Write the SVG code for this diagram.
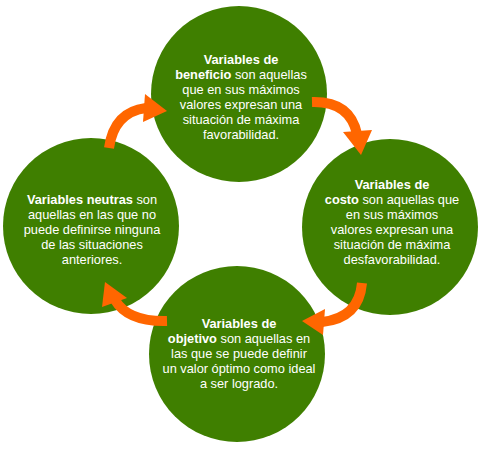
<svg xmlns="http://www.w3.org/2000/svg" width="480" height="450" viewBox="0 0 480 450">
<style>
.c{fill:#3f7f00}
.t{font-family:"Liberation Sans",Arial,sans-serif;font-size:12.8px;fill:#ffffff;text-anchor:middle}
.b{font-weight:bold}
.a{fill:none;stroke:#ff6600;stroke-width:10}
.h{fill:#ff6600}
</style>
<rect width="480" height="450" fill="#ffffff"/>
<g id="node-beneficio">
<circle class="c" cx="239" cy="94" r="88"/>
<text class="t"><tspan x="241" y="64" class="b">Variables de</tspan><tspan x="241" y="79"><tspan class="b">beneficio</tspan> son aquellas</tspan><tspan x="241" y="94">que en sus máximos</tspan><tspan x="241" y="109">valores expresan una</tspan><tspan x="241" y="124">situación de máxima</tspan><tspan x="241" y="139">favorabilidad.</tspan></text>
</g>
<g id="node-costo">
<circle class="c" cx="390" cy="227" r="88"/>
<text class="t"><tspan x="392" y="189" class="b">Variables de</tspan><tspan x="392" y="204"><tspan class="b">costo</tspan> son aquellas que</tspan><tspan x="392" y="219">en sus máximos</tspan><tspan x="392" y="234">valores expresan una</tspan><tspan x="392" y="249">situación de máxima</tspan><tspan x="392" y="264">desfavorabilidad.</tspan></text>
</g>
<g id="node-objetivo">
<circle class="c" cx="237" cy="354" r="88"/>
<text class="t"><tspan x="239" y="328" class="b">Variables de</tspan><tspan x="239" y="343"><tspan class="b">objetivo</tspan> son aquellas en</tspan><tspan x="239" y="358">las que se puede definir</tspan><tspan x="239" y="373">un valor óptimo como ideal</tspan><tspan x="239" y="388">a ser logrado.</tspan></text>
</g>
<g id="node-neutras">
<circle class="c" cx="91" cy="226" r="88"/>
<text class="t"><tspan x="92" y="204"><tspan class="b">Variables neutras</tspan> son</tspan><tspan x="92" y="219">aquellas en las que no</tspan><tspan x="92" y="234">puede definirse ninguna</tspan><tspan x="92" y="249">de las situaciones</tspan><tspan x="92" y="264">anteriores.</tspan></text>
</g>
<g id="connectors">
<path class="a" d="M109,148 Q114,112 146,108"/>
<polygon class="h" points="145,94 167,111 143,122"/>
<path class="a" d="M312,102 Q350,101 357,134"/>
<polygon class="h" points="343,132 372,130 361,155"/>
<path class="a" d="M362,283 Q359,318 322,322"/>
<polygon class="h" points="325,309 302,321 323,335"/>
<path class="a" d="M167,321 Q128,322 115,300"/>
<polygon class="h" points="105,282 127,298 102,307"/>
</g>
</svg>
